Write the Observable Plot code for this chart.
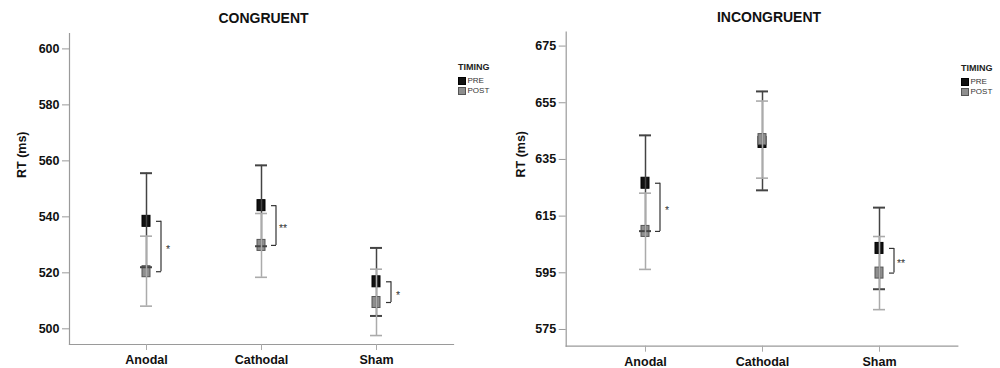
<!DOCTYPE html>
<html>
<head>
<meta charset="utf-8">
<script src="https://cdn.jsdelivr.net/npm/d3@7"></script>
<script src="https://cdn.jsdelivr.net/npm/@observablehq/plot@0.6"></script>
<style>
  html, body { margin: 0; padding: 0; background: #fff; }
  #root { position: relative; width: 1000px; height: 368px; overflow: hidden; font-family: "Liberation Sans", Arial, sans-serif; }
  .panel { position: absolute; top: 0; width: 500px; height: 368px; }
  .legend { position: absolute; font-family: "Liberation Sans", Arial, sans-serif; color: #222; }
  .legend .ttl { font-size: 9px; font-weight: bold; line-height: 10px; margin-bottom: 4px; }
  .legend .item { display: flex; align-items: center; font-size: 8px; line-height: 10px; height: 10px; color: #333; }
  .legend .sw { width: 6px; height: 6px; margin-right: 1.5px; box-sizing: content-box; }
</style>
</head>
<body>
<div id="root"></div>
<script>
// ---- data ----
const conditions = ["Anodal", "Cathodal", "Sham"];
const timings = ["PRE", "POST"];

// CONGRUENT (RT, ms)
const congPreMean  = [538.4, 544.0, 516.8];
const congPreLow   = [522.0, 529.5, 504.6];
const congPreHigh  = [555.6, 558.4, 528.9];
const congPostMean = [520.4, 529.8, 509.4];
const congPostLow  = [508.1, 518.4, 497.6];
const congPostHigh = [533.1, 541.2, 521.3];
const congSig = ["*", "**", "*"];
const congTicks = [500, 520, 540, 560, 580, 600];

// INCONGRUENT (RT, ms)
const incPreMean  = [626.6, 641.0, 603.6];
const incPreLow   = [609.7, 624.1, 589.2];
const incPreHigh  = [643.5, 659.0, 618.0];
const incPostMean = [609.6, 642.0, 594.9];
const incPostLow  = [596.2, 628.4, 582.0];
const incPostHigh = [623.1, 655.6, 607.8];
const incSig = ["*", "", "**"];
const incTicks = [575, 595, 615, 635, 655, 675];

const font = "'Liberation Sans', Arial, sans-serif";
const preFill = "#111", preStroke = "#000", preLine = "#444";
const postFill = "#8e8e8e", postStroke = "#555", postLine = "#ababab";

function rowsOf(timing, mean, low, high) {
  return conditions.map((c, i) => ({condition: c, timing, mean: mean[i], low: low[i], high: high[i]}));
}

function panel(cfg) {
  const pre = rowsOf("PRE", cfg.preMean, cfg.preLow, cfg.preHigh);
  const post = rowsOf("POST", cfg.postMean, cfg.postLow, cfg.postHigh);
  const sig = conditions.map((c, i) => ({condition: c, top: cfg.preMean[i], bottom: cfg.postMean[i], label: cfg.sig[i]}))
    .filter(d => d.label);

  const marker = (data, fill, stroke) => Plot.rect(data, {
    x1: "condition", x2: "condition", y1: "mean", y2: "mean",
    insetLeft: -4, insetRight: -4, insetTop: -5.5, insetBottom: -5.5,
    fill, stroke, strokeWidth: 1
  });
  const errbar = (data, color, capW) => [
    Plot.ruleX(data, {x: "condition", y1: "low", y2: "high", stroke: color, strokeWidth: 1.5}),
    Plot.ruleY(data, {x1: "condition", x2: "condition", y: "high", stroke: color, strokeWidth: capW, insetLeft: -6, insetRight: -6}),
    Plot.ruleY(data, {x1: "condition", x2: "condition", y: "low", stroke: color, strokeWidth: capW, insetLeft: -6, insetRight: -6})
  ];

  return Plot.plot({
    width: 500, height: 368,
    marginLeft: cfg.ml, marginRight: cfg.mr, marginTop: cfg.mt, marginBottom: cfg.mb,
    style: {fontFamily: font, background: "white", overflow: "visible"},
    x: {type: "point", domain: conditions, padding: 0.66, label: null},
    y: {domain: cfg.domain, label: null},
    marks: [
      Plot.frame({anchor: "left", stroke: "#9a9a9a", strokeWidth: 1.2}),
      Plot.frame({anchor: "bottom", stroke: "#9a9a9a", strokeWidth: 1.2}),
      Plot.axisY({ticks: cfg.ticks, tickSize: 7, tickPadding: 3, fontSize: 12.5, fontWeight: "bold", label: null, stroke: "#9a9a9a", fill: "#111"}),
      Plot.axisX({tickSize: 6, tickPadding: 5, fontSize: 12.5, fontWeight: "bold", label: null, stroke: "#aaa", fill: "#111"}),
      Plot.text([cfg.title], {frameAnchor: "top", dx: cfg.titleDx, dy: -15, text: d => d, fontSize: 14, fontWeight: "bold", fill: "#111", lineAnchor: "middle"}),
      Plot.text(["RT (ms)"], {frameAnchor: "left", dx: cfg.labelDx, dy: cfg.labelDy, rotate: -90, text: d => d, fontSize: 12.5, fontWeight: "bold", fill: "#111", lineAnchor: "middle"}),
      marker(pre, preFill, preStroke),
      marker(post, postFill, postStroke),
      ...errbar(pre, preLine, 2),
      ...errbar(post, postLine, 1.6),
      // significance brackets
      Plot.ruleX(sig, {x: "condition", y1: "top", y2: "bottom", dx: 14.5, stroke: "#333", strokeWidth: 1.2}),
      Plot.ruleY(sig, {x1: "condition", x2: "condition", y: "top", insetLeft: 10, insetRight: -15, stroke: "#333", strokeWidth: 1.2}),
      Plot.ruleY(sig, {x1: "condition", x2: "condition", y: "bottom", insetLeft: 10, insetRight: -15, stroke: "#333", strokeWidth: 1.2}),
      Plot.text(sig, {x: "condition", y: d => (d.top + d.bottom) / 2, text: "label", dx: 21.5, dy: 3, fontSize: 10.5, fill: "#333", lineAnchor: "middle"})
    ]
  });
}

function legend(left, top) {
  const el = document.createElement("div");
  el.className = "legend";
  el.style.left = left + "px";
  el.style.top = top + "px";
  const t = document.createElement("div");
  t.className = "ttl";
  t.textContent = "TIMING";
  el.appendChild(t);
  const fills = [preFill, postFill], strokes = [preStroke, postStroke];
  timings.forEach((name, i) => {
    const it = document.createElement("div");
    it.className = "item";
    const sw = document.createElement("span");
    sw.className = "sw";
    sw.style.background = fills[i];
    sw.style.border = "0.8px solid " + strokes[i];
    it.appendChild(sw);
    const tx = document.createElement("span");
    tx.textContent = name;
    it.appendChild(tx);
    el.appendChild(it);
  });
  return el;
}

const root = document.getElementById("root");

const leftDiv = document.createElement("div");
leftDiv.className = "panel"; leftDiv.style.left = "0px";
leftDiv.appendChild(panel({
  title: "CONGRUENT", preMean: congPreMean, preLow: congPreLow, preHigh: congPreHigh,
  postMean: congPostMean, postLow: congPostLow, postHigh: congPostHigh, sig: congSig,
  domain: [494.4, 605.5], ticks: congTicks,
  ml: 69, mr: 47, mt: 33, mb: 24, titleDx: 2, labelDx: -47.3, labelDy: -11
}));
leftDiv.appendChild(legend(458, 62));
root.appendChild(leftDiv);

const rightDiv = document.createElement("div");
rightDiv.className = "panel"; rightDiv.style.left = "500px";
rightDiv.appendChild(panel({
  title: "INCONGRUENT", preMean: incPreMean, preLow: incPreLow, preHigh: incPreHigh,
  postMean: incPostMean, postLow: incPostLow, postHigh: incPostHigh, sig: incSig,
  domain: [569.1, 679.9], ticks: incTicks,
  ml: 65.7, mr: 42.7, mt: 31.7, mb: 22.3, titleDx: 7, labelDx: -45.7, labelDy: -11.7
}));
rightDiv.appendChild(legend(461, 63));
root.appendChild(rightDiv);
</script>
</body>
</html>
